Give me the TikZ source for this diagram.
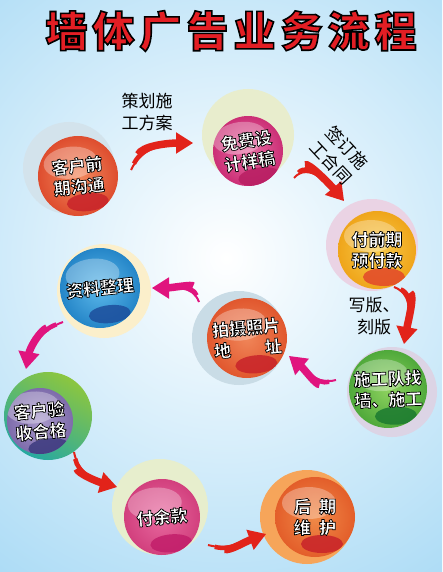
\documentclass[tikz,border=0pt]{standalone}
\usepackage{fontspec}
\setmainfont{Noto Sans CJK SC}
\usepackage{tikz}
\usetikzlibrary{arrows.meta,calc}

\definecolor{skyblue}{HTML}{A6D9F5}
\definecolor{titlered}{HTML}{E31E24}
\definecolor{arrowred}{HTML}{E2231A}
\definecolor{arrowpink}{HTML}{E0147E}
% halo colours
\definecolor{haloa}{HTML}{D3E3EC}
\definecolor{halob}{HTML}{E8EDCD}
\definecolor{haloc}{HTML}{EAD3E4}
\definecolor{halod}{HTML}{DCD4E5}
\definecolor{haloe}{HTML}{C9DCE6}
\definecolor{halof}{HTML}{FBEFCB}
\definecolor{halog}{HTML}{8CC63F}
\definecolor{halogg}{HTML}{27A9A1}
\definecolor{haloh}{HTML}{E7EECD}
\definecolor{haloi}{HTML}{F6A55A}
% ball colours: light, base, dark
\definecolor{orangeL}{HTML}{F28A5E}\definecolor{orangeB}{HTML}{DD4A2C}\definecolor{orangeD}{HTML}{C8232A}
\definecolor{roseL}{HTML}{E86EA4}\definecolor{roseB}{HTML}{C92A72}\definecolor{roseD}{HTML}{B81E62}
\definecolor{goldL}{HTML}{F8CB4C}\definecolor{goldB}{HTML}{EFA51A}\definecolor{goldD}{HTML}{E2472A}
\definecolor{greenL}{HTML}{8ED25F}\definecolor{greenB}{HTML}{4EA83A}\definecolor{greenD}{HTML}{1B7A30}
\definecolor{coralL}{HTML}{F08558}\definecolor{coralB}{HTML}{E0552C}\definecolor{coralD}{HTML}{C8232A}
\definecolor{blueL}{HTML}{5CB8EA}\definecolor{blueB}{HTML}{2283C6}\definecolor{blueD}{HTML}{1D4E9C}
\definecolor{violetL}{HTML}{A898CA}\definecolor{violetB}{HTML}{7C6AAA}\definecolor{violetD}{HTML}{3C3A7E}
\definecolor{pinkL}{HTML}{E8699F}\definecolor{pinkB}{HTML}{D13E7C}\definecolor{pinkD}{HTML}{C21E6A}
\definecolor{amberL}{HTML}{F08A48}\definecolor{amberB}{HTML}{E35E2A}\definecolor{amberD}{HTML}{C8232A}

% text filled in one colour and stroked in another: fill colour, rim (pdf stroke colour), rim width, text
\newcommand\rimtext[4]{\textcolor{#1}{\special{pdf:literal direct 2 Tr #3 w #2 RG}#4\special{pdf:literal direct 0 Tr}}}
\newcommand\balltext[1]{\rimtext{white}{0 0 0}{0.7}{#1}}

\tikzset{
  ball/.style={circle, inner sep=0pt, inner color=#1L, outer color=#1B,
    align=center, font=\bfseries\fontsize{17}{21}\selectfont,
    path picture={
      \fill[white, fill opacity=.3] ([shift={(-6pt,14pt)}]path picture bounding box.center) ellipse (27pt and 16pt);
      \fill[#1D, fill opacity=.85] ([shift={(7pt,-27pt)}]path picture bounding box.center) ellipse (21pt and 9pt);
    }},
  steplabel/.style={align=center, inner sep=1pt, font=\fontsize{17}{22}\selectfont},
  swoosh/.style={draw=#1, line width=2pt, -{Triangle[width=21pt,length=17pt]},
    preaction={draw=#1, -, line width=4.5pt, shorten <=7pt, shorten >=14pt},
    preaction={draw=#1, -, line width=7.5pt, shorten <=17pt, shorten >=14pt}},
  redarrow/.style={swoosh=arrowred},
  pinkarrow/.style={swoosh=arrowpink}
}

\begin{document}
\begin{tikzpicture}[x=1pt,y=-1pt]
    % Background
    \fill[skyblue] (0,0) rectangle (442,572);
    \begin{scope}
      \clip (0,0) rectangle (442,572);
      \shade[inner color=white, outer color=skyblue] (226,258) circle (420);
    \end{scope}

    % Title
    \node[font=\bfseries\fontsize{42}{42}\selectfont\addfontfeature{LetterSpace=12}] (title) at (231,31) {\rimtext{titlered}{0 0 0}{1.6}{墙体广告业务流程}};

    % Halos
    \fill[haloa] (69,168) circle (46);
    \fill[halob] (248,135) circle (46);
    \fill[haloc] (372,245) circle (46);
    \fill[halod] (392,392) circle (45);
    \fill[haloe] (239,338) circle (47);
    \fill[halof] (104,291) circle (47);
    \shade[top color=halog, bottom color=halogg, shading angle=-30] (48,416) circle (44);
    \fill[haloh] (160,507) circle (48);
    \fill[haloi] (307,517) circle (47);

    % Steps
    \node[ball=orange, minimum size=80pt, rotate=6] (talk) at (78,176) {\balltext{客户前}\\\balltext{期沟通}};
    \node[ball=rose, minimum size=70pt, rotate=9] (design) at (248,151) {\balltext{免费设}\\\balltext{计样稿}};
    \node[ball=gold, minimum size=78pt] (deposit) at (377,250) {\balltext{付前期}\\\balltext{预付款}};
    \node[ball=green, minimum size=78pt, rotate=2] (build) at (388,389) {\balltext{施工队找}\\\balltext{墙、施工}};
    \node[ball=coral, minimum size=80pt, rotate=5] (photo) at (247,338) {\balltext{拍摄照片}\\\balltext{地\hspace{2em}址}};
    \node[ball=blue, minimum size=80pt, rotate=6] (files) at (100,288) {\balltext{资料整理}};
    \node[ball=violet, minimum size=66pt, rotate=5] (accept) at (40,421) {\balltext{客户验}\\\balltext{收合格}};
    \node[ball=pink, minimum size=76pt, rotate=5] (balance) at (162,517) {\balltext{付余款}};
    \node[ball=amber, minimum size=80pt] (service) at (315,517) {\balltext{后\hspace{0.5em}期}\\\balltext{维\hspace{0.5em}护}};

    % Arrows
    \draw[redarrow] ($(talk)+(53,-6)$) to[out=65,in=180] ($(design)+(-55,-8)$);
    \draw[redarrow] ($(design)+(46,27)$) to[out=50,in=130] ($(deposit)+(-33,-49)$);
    \draw[redarrow] ($(deposit)+(17,37)$) to[out=-20,in=80] ($(build)+(16,-45)$);
    \draw[pinkarrow] ($(build)+(-52,-9)$) to[out=195,in=-40] ($(photo)+(42,18)$);
    \draw[pinkarrow] ($(photo)+(-48,-36)$) to[out=110,in=0] ($(files)+(52,0)$);
    \draw[pinkarrow] ($(files)+(-37,34)$) to[out=200,in=80] ($(accept)+(-14,-52)$);
    \draw[redarrow] ($(accept)+(34,31)$) to[out=-80,in=165] ($(balance)+(-45,-30)$);
    \draw[redarrow] ($(balance)+(46,28)$) to[out=-15,in=200] ($(service)+(-49,17)$);

    % Labels
    \node[steplabel] (plan) at (147,112) {策划施\\工方案};
    \node[steplabel, rotate=-47] (contract) at (339,155) {签订施\\工合同};
    \node[steplabel] (plate) at (374,316) {写版、\\刻版};
\end{tikzpicture}
\end{document}
